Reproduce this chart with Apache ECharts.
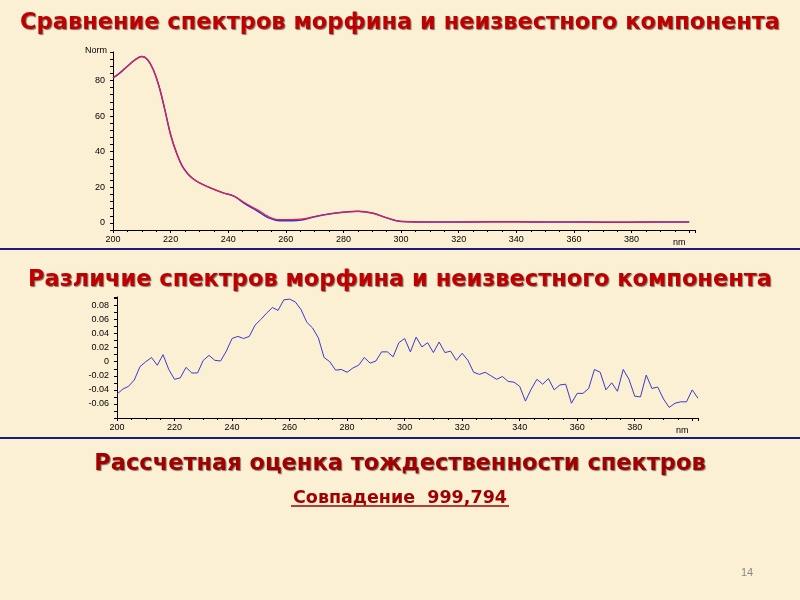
<!DOCTYPE html>
<html><head><meta charset="utf-8">
<script src="https://cdn.jsdelivr.net/npm/echarts@6/dist/echarts.min.js"></script>
<style>
html,body{margin:0;padding:0;}
#c{width:800px;height:600px;background:#fbf0d4;}
</style></head>
<body><div id="c"></div>
<script>
// спектры (нм, Norm)
var specX = [200,202,205,208,210,212,214,216,218,220,222,224,226,228,230,234,238,242,246,250,254,258,262,266,270,275,280,285,290,295,300,310,320,330,340,350,360,370,380,390,400];
var morphine = [81.5,83.7,88,92,93.5,91.7,86,76.6,63.5,49.5,39.5,32,27.5,24.5,22.5,19.5,17,15,11,7.5,3.5,1.8,1.8,2.2,3.6,5,6,6.5,5.5,2.8,0.8,0.5,0.5,0.6,0.6,0.5,0.5,0.4,0.4,0.5,0.5];
var unknown = [81.5,83.7,88,92,93.5,91.7,86,76.6,63.5,49.5,39.5,32,27.5,24.5,22.5,19.5,17,15,10.5,6.8,2.8,1.2,1.2,1.8,3.4,5,6,6.5,5.5,2.8,0.8,0.5,0.5,0.6,0.6,0.5,0.5,0.4,0.4,0.5,0.5];
// разность, шаг 2 нм от 200
var diff = [-0.046,-0.039,-0.035,-0.026,-0.007,0,0.006,-0.005,0.010,-0.011,-0.025,-0.023,-0.008,-0.016,-0.016,0.002,0.009,0.002,0.001,0.015,0.033,0.036,0.033,0.036,0.052,0.060,0.069,0.077,0.073,0.088,0.089,0.085,0.074,0.056,0.048,0.034,0.006,0,-0.012,-0.011,-0.015,-0.009,-0.005,0.006,-0.002,0.001,0.014,0.014,0.007,
0.027,0.033,0.014,0.035,0.021,0.027,0.013,0.028,0.013,0.015,0.002,0.012,0.002,-0.015,-0.018,-0.015,-0.020,-0.025,-0.021,-0.028,-0.029,-0.035,-0.056,-0.039,-0.025,-0.032,-0.024,-0.040,-0.033,-0.032,-0.059,-0.045,-0.045,-0.038,-0.011,-0.015,-0.040,-0.030,-0.042,-0.011,-0.025,-0.049,-0.050,-0.019,-0.038,-0.036,-0.053,-0.065,-0.059,-0.057,-0.057,-0.040,-0.052];
var xTicks = [200,220,240,260,280,300,320,340,360,380];

var specA = specX.map(function(x,i){return [x,morphine[i]];});
var specB = specX.map(function(x,i){return [x,unknown[i]];});
var diffData = diff.map(function(v,i){return [200+2*i,v];});

var lbl = {fontFamily:'Liberation Sans',fontSize:9,color:'#000'};
function xAxis(idx){
  return {type:'value',gridIndex:idx,min:200,max:402,interval:20,
    axisLine:{onZero:false,lineStyle:{color:'#000'}},axisTick:{lineStyle:{color:'#000'},length:3},
    minorTick:{show:true,splitNumber:4,length:2,lineStyle:{color:'#000'}},
    splitLine:{show:false},
    name:'nm',nameLocation:'end',nameGap:-22,nameTextStyle:{fontFamily:'Liberation Sans',fontSize:9,verticalAlign:'top',padding:[8,0,0,0]},
    axisLabel:Object.assign({margin:5,formatter:function(v){return xTicks.indexOf(v)>=0?v:'';}},lbl)};
}
var titleStyle = {fontFamily:'DejaVu Sans',fontWeight:'bold',fontSize:22.5,color:'#c00000',
  textShadowColor:'rgba(0,0,0,0.5)',textShadowBlur:1,textShadowOffsetX:1,textShadowOffsetY:1};

var chart = echarts.init(document.getElementById('c'));
chart.setOption({
  backgroundColor:'#fbf0d4',
  animation:false,
  title:[
    {text:'Сравнение спектров морфина и неизвестного компонента',left:'center',top:7,textStyle:titleStyle},
    {text:'Различие спектров морфина и неизвестного компонента',left:'center',top:264,textStyle:titleStyle},
    {text:'Рассчетная оценка тождественности спектров',left:'center',top:448,textStyle:Object.assign({},titleStyle,{color:'#a00000'})},
    {text:'Совпадение  999,794',left:'center',top:484,textStyle:{fontFamily:'DejaVu Sans',fontWeight:'bold',fontSize:17.5,color:'#a00000'}},
    {text:'14',left:736,top:562,textStyle:{fontFamily:'Liberation Sans',fontSize:11,color:'#888',fontWeight:'normal'}}
  ],
  graphic:[
    {type:'line',shape:{x1:0,y1:249,x2:800,y2:249},style:{stroke:'#1c1c7a',lineWidth:2}},
    {type:'line',shape:{x1:0,y1:438,x2:800,y2:438},style:{stroke:'#1c1c7a',lineWidth:2}},
    {type:'line',shape:{x1:291,y1:506,x2:509,y2:506},style:{stroke:'#a00000',lineWidth:1.5}}
  ],
  grid:[
    {left:113,right:105,top:52,height:178},
    {left:117,right:102,top:297,height:121}
  ],
  xAxis:[xAxis(0),xAxis(1)],
  yAxis:[
    {type:'value',gridIndex:0,min:-4,max:96,interval:4,
      name:'Norm',nameLocation:'end',nameGap:-3,nameTextStyle:{fontFamily:'Liberation Sans',fontSize:9,align:'right',padding:[0,6,0,0]},
      axisLine:{show:true,lineStyle:{color:'#000'}},axisTick:{show:true,length:3,lineStyle:{color:'#000'}},splitLine:{show:false},
      axisLabel:Object.assign({formatter:function(v){return (v>=0&&v%20===0&&v<96)?v:'';}},lbl)},
    {type:'value',gridIndex:1,min:-0.08,max:0.092,interval:0.01,
      axisLine:{show:true,lineStyle:{color:'#000'}},axisTick:{show:true,length:3,lineStyle:{color:'#000'}},splitLine:{show:false},
      axisLabel:Object.assign({formatter:function(v){var r=Math.round(v*100);if(r%2!==0||r<=-8)return '';return r===0?'0':(r/100).toFixed(2);}},lbl)}
  ],
  series:[
    {type:'line',xAxisIndex:0,yAxisIndex:0,data:specB,smooth:0.4,showSymbol:false,lineStyle:{color:'#3030d0',width:1.5}},
    {type:'line',xAxisIndex:0,yAxisIndex:0,data:specA,smooth:0.4,showSymbol:false,lineStyle:{color:'#e02050',width:1.2}},
    {type:'line',xAxisIndex:1,yAxisIndex:1,data:diffData,showSymbol:false,lineStyle:{color:'#3a3ad0',width:1}}
  ]
});
</script></body></html>
